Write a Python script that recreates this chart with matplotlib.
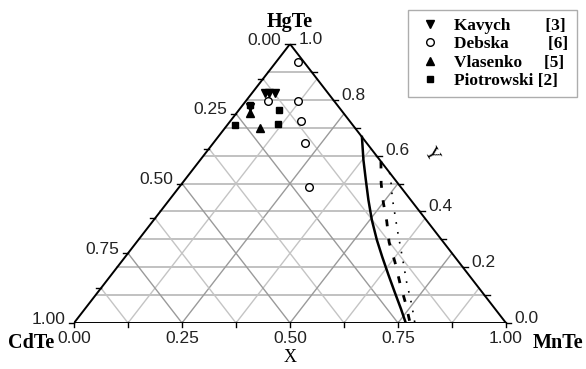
import numpy as np
import matplotlib
matplotlib.use('Agg')
import matplotlib.pyplot as plt
from matplotlib.lines import Line2D

# compositions: (MnTe fraction, HgTe fraction)
kavych_mn = [0.029, 0.039, 0.053, 0.020]
kavych_hg = [0.825, 0.825, 0.823, 0.773]
debska_mn = [0.051, 0.051, 0.121, 0.163, 0.212, 0.300]
debska_hg = [0.936, 0.796, 0.796, 0.725, 0.646, 0.489]
vlasenko_mn = [0.031, 0.081]
vlasenko_hg = [0.754, 0.700]
piotr_mn = [0.016, 0.093, 0.116, 0.017]
piotr_hg = [0.782, 0.764, 0.714, 0.711]

solid_mn = [0.333, 0.378, 0.419, 0.461, 0.505, 0.552, 0.595, 0.642, 0.689, 0.732, 0.768]
solid_hg = [0.667, 0.584, 0.513, 0.441, 0.369, 0.298, 0.237, 0.172, 0.108, 0.050, 0.0]
dash_mn = [0.421, 0.461, 0.500, 0.542, 0.585, 0.634, 0.683, 0.732, 0.778]
dash_hg = [0.579, 0.500, 0.432, 0.364, 0.289, 0.218, 0.143, 0.071, 0.0]
dot_mn = [0.461, 0.484, 0.514, 0.561, 0.587, 0.642, 0.697, 0.750, 0.789]
dot_hg = [0.539, 0.500, 0.446, 0.368, 0.325, 0.236, 0.146, 0.064, 0.0]

bottom_ticks = [0.00, 0.25, 0.50, 0.75, 1.00]
left_ticks = [0.00, 0.25, 0.50, 0.75, 1.00]
right_ticks = [1.0, 0.8, 0.6, 0.4, 0.2, 0.0]


def tern(mn, hg):
    mn = np.asarray(mn, float)
    hg = np.asarray(hg, float)
    return mn + hg / 2, hg


fig = plt.figure(figsize=(5.86, 3.69), dpi=100)
ax = fig.add_axes([74 / 586, 46 / 369, 432 / 586, 279 / 369])
ax.set_xlim(0, 1)
ax.set_ylim(0, 1)
ax.axis('off')

sans = 'Liberation Sans'
serif = 'Liberation Serif'
lab_fs = 12.5

# grid
for y in np.arange(0.1, 0.95, 0.1):
    x0, _ = tern(0, y)
    x1, _ = tern(1 - y, y)
    ax.plot([x0, x1], [y, y], color='#b0b0b0', lw=1.1, zorder=1)
for k in range(1, 8):
    v = k * 0.125
    c = '#9a9a9a' if k % 2 == 0 else '#c4c4c4'
    xs, ys = tern([v, v], [0, 1 - v])
    ax.plot(xs, ys, color=c, lw=1.0, zorder=1)
    xs, ys = tern([1 - v, 0], [0, 1 - v])
    ax.plot(xs, ys, color=c, lw=1.0, zorder=1)

# triangle frame
xs, ys = tern([0, 1, 0, 0], [0, 0, 1, 0])
ax.plot(xs, ys, color='black', lw=1.4, zorder=3, solid_joinstyle='miter')

# ticks
tl = 0.012
for k in range(9):
    v = k * 0.125
    ax.plot([v, v], [-tl * 1.3, tl * 0.4], color='black', lw=1.0, clip_on=False)
    x, y = tern(0, v)
    ax.plot([x - tl, x], [y, y], color='black', lw=1.0, clip_on=False)
for k in range(11):
    v = k * 0.1
    x, y = tern(1 - v, v)
    ax.plot([x, x + tl], [y, y], color='black', lw=1.0, clip_on=False)

# tick labels
for v in bottom_ticks:
    ax.text(v, -0.03, f'{v:.2f}', ha='center', va='top', fontsize=lab_fs,
            family=sans, color='#222222')
for v in left_ticks:
    x, y = tern(0, 1 - v)
    ax.text(x - 0.02, y + 0.014, f'{v:.2f}', ha='right', va='center', fontsize=lab_fs,
            family=sans, color='#222222')
for v in right_ticks:
    x, y = tern(1 - v, v)
    ax.text(x + 0.02, y + 0.017, f'{v:.1f}', ha='left', va='center', fontsize=lab_fs,
            family=sans, color='#222222')

# vertex and axis labels
ax.text(0.5, 1.078, 'HgTe', ha='center', va='center', fontsize=14.5,
        family=serif, weight='bold')
ax.text(-0.153, -0.07, 'CdTe', ha='left', va='center', fontsize=14.5,
        family=serif, weight='bold')
ax.text(1.062, -0.07, 'MnTe', ha='left', va='center', fontsize=14.5,
        family=serif, weight='bold')
ax.text(0.5, -0.125, 'X', ha='center', va='center', fontsize=13, family=serif)
ax.text(0.827, 0.603, 'Y', ha='center', va='center', fontsize=13, family=serif,
        rotation=-60)

# phase boundary curves
ax.plot(*tern(solid_mn, solid_hg), color='black', lw=1.8, zorder=4)
ax.plot(*tern(dash_mn, dash_hg), color='black', lw=2.0, ls=(0, (2.5, 4.5)), zorder=4)
ax.plot(*tern(dot_mn, dot_hg), color='black', lw=1.2, ls=(0, (1, 5)), zorder=4)

# data points
ms = 5.5
ax.plot(*tern(debska_mn, debska_hg), 'o', ms=ms, mfc='white', mec='black',
        mew=1.0, zorder=5, ls='none')
ax.plot(*tern(piotr_mn, piotr_hg), 's', ms=ms - 0.5, color='black', zorder=5, ls='none')
ax.plot(*tern(vlasenko_mn, vlasenko_hg), '^', ms=ms, color='black', zorder=5, ls='none')
ax.plot(*tern(kavych_mn, kavych_hg), 'v', ms=ms, color='black', zorder=5, ls='none')

handles = [
    Line2D([], [], marker='v', color='black', ls='none', ms=ms),
    Line2D([], [], marker='o', mfc='white', mec='black', ls='none', ms=ms),
    Line2D([], [], marker='^', color='black', ls='none', ms=ms),
    Line2D([], [], marker='s', color='black', ls='none', ms=ms - 0.5),
]
labels = ['Kavych        [3]', 'Debska         [6]', 'Vlasenko     [5]', 'Piotrowski [2]']
leg = fig.legend(handles, labels, loc='upper left', bbox_to_anchor=(408 / 586, 1 - 10 / 369),
                 borderaxespad=0, frameon=True, fancybox=False, edgecolor='#999999',
                 handlelength=1.6, handletextpad=0.6, labelspacing=0.12, borderpad=0.48,
                 prop={'family': serif, 'weight': 'bold', 'size': 12.4})
leg.get_frame().set_linewidth(1.0)

fig.savefig('out.png', dpi=100)
